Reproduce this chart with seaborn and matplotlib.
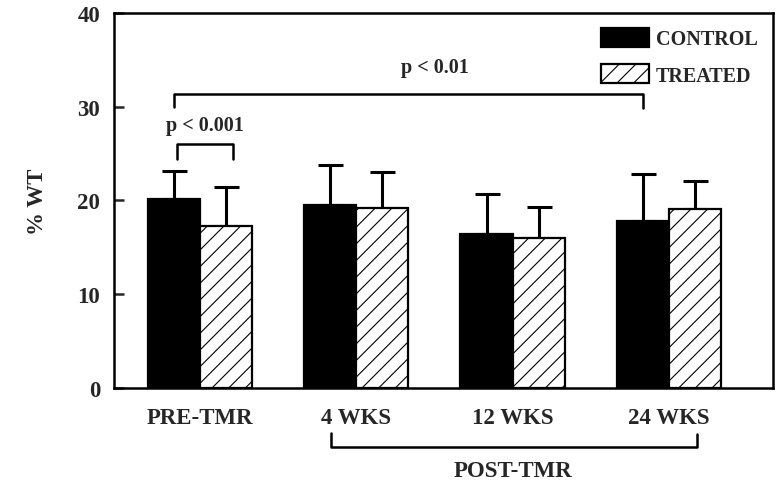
import numpy as np
import pandas as pd
import matplotlib
matplotlib.use('Agg')
import matplotlib.pyplot as plt
import seaborn as sns
from matplotlib.patches import Patch

sns.set_theme(style='white')
plt.rcParams['font.family'] = ['Liberation Serif', 'DejaVu Serif']
plt.rcParams['font.weight'] = 'bold'
plt.rcParams['hatch.linewidth'] = 0.8

# Data
periods = ['PRE-TMR', '4 WKS', '12 WKS', '24 WKS']
groups = ['CONTROL', 'TREATED']
control_mean = [20.2, 19.55, 16.45, 17.8]
control_err = [2.9, 4.25, 4.25, 5.0]
treated_mean = [17.25, 19.2, 16.0, 19.1]
treated_err = [4.15, 3.8, 3.35, 2.95]

df = pd.DataFrame({
    'period': periods * 2,
    'group': [groups[0]] * 4 + [groups[1]] * 4,
    'value': control_mean + treated_mean,
})
errs = {groups[0]: control_err, groups[1]: treated_err}

fig = plt.figure(figsize=(7.82, 4.89), dpi=100)
ax = fig.add_axes([0.1458, 0.2045, 0.8427, 0.7669])

sns.barplot(data=df, x='period', y='value', hue='group', order=periods,
            hue_order=groups, palette=['black', 'white'], width=0.667,
            edgecolor='black', linewidth=1.6, errorbar=None, ax=ax, zorder=3)

# hatch the treated bars, add one-sided error bars
for cont, g in zip(ax.containers, groups):
    xs, ys = [], []
    for bar in cont:
        if g == 'TREATED':
            bar.set_hatch('//')
        xs.append(bar.get_x() + bar.get_width() / 2)
        ys.append(bar.get_height())
    e = np.array(errs[g])
    ax.errorbar(xs, ys, yerr=[np.zeros_like(e), e], fmt='none', ecolor='black',
                elinewidth=2.2, capsize=9, capthick=2.2, zorder=2)

ax.set_ylim(0, 40)
ax.set_xlim(-0.55, 3.666)
ax.set_yticks([0, 10, 20, 30, 40])
ax.set_xlabel('')
ax.set_ylabel('% WT', fontsize=16.5, fontweight='bold', labelpad=21)
ax.tick_params(axis='y', direction='in', length=7, width=1.8, labelsize=16.5, pad=10, left=True)
ax.tick_params(axis='x', length=0, labelsize=16.5, pad=14)
for lab in ax.get_xticklabels() + ax.get_yticklabels():
    lab.set_fontweight('bold')
for s in ax.spines.values():
    s.set_linewidth(1.8)
    s.set_color('black')

# significance brackets
kw = dict(color='black', lw=1.8, clip_on=False)
ax.plot([-0.15, -0.15, 0.21, 0.21], [24.4, 26.0, 26.0, 24.4], **kw)
ax.text(0.03, 28.0, 'p < 0.001', ha='center', va='center', fontsize=14.5, fontweight='bold')
ax.plot([-0.167, -0.167, 2.833, 2.833], [30.0, 31.35, 31.35, 29.9], **kw)
ax.text(1.5, 34.2, 'p < 0.01', ha='center', va='center', fontsize=14.5, fontweight='bold')
ax.plot([0.838, 0.838, 3.178, 3.178], [-4.8, -6.3, -6.3, -4.9], **kw)
ax.text(2.0, -8.85, 'POST-TMR', ha='center', va='center', fontsize=16.5, fontweight='bold')

handles = [Patch(facecolor='black', edgecolor='black', linewidth=1.6),
           Patch(facecolor='white', edgecolor='black', hatch='//', linewidth=1.6)]
ax.legend(handles, groups, loc='upper right', frameon=False,
          handlelength=2.4, handleheight=1.05, handletextpad=0.35,
          labelspacing=0.75, borderaxespad=0.35, prop={'weight': 'bold', 'size': 14.5})

fig.savefig('out.png', dpi=100)
